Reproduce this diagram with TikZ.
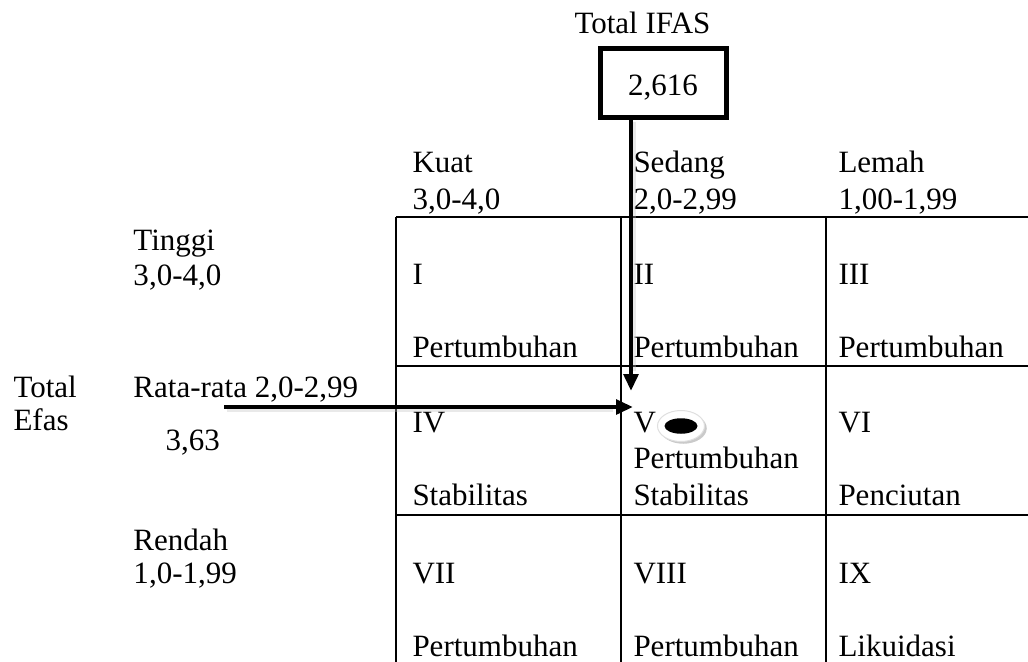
\documentclass[tikz,border=0pt]{standalone}
\usepackage{fontspec}
\setmainfont{Liberation Serif}
\usetikzlibrary{arrows.meta,shadows,shapes.geometric}
\begin{document}
\begin{tikzpicture}[x=0.4pt,y=-0.4pt,
  txt/.style={anchor=base west,inner sep=0pt,font=\fontsize{12.4}{14}\selectfont},
  gridline/.style={line width=0.8pt},
  arr/.style={line width=1.8pt,-{Triangle[length=6.8pt,width=5.8pt]}},
  arrshadow/.style={line width=2.2pt,draw=gray!50,opacity=0.35}]
\useasboundingbox (0,0) rectangle (1028,661);
% grid
\draw[gridline] (396,217) -- (1030,217);
\draw[gridline] (396,366) -- (1030,366);
\draw[gridline] (396,515) -- (1030,515);
\draw[gridline] (396,217) -- (396,663);
\draw[gridline] (621,217) -- (621,663);
\draw[gridline] (826,217) -- (826,663);
% top
\node[txt] (tifas) at (574,33) {Total IFAS};
\node[draw,line width=2pt,minimum width=50.4pt,minimum height=27.6pt,inner sep=0pt,
  text height=10pt,text depth=0pt,font=\fontsize{12.4}{14}\selectfont] (ifasbox) at (663,82.5) {2,616};
% column headers
\node[txt] (kuat) at (412,172) {Kuat};
\node[txt] (kuatr) at (412,209) {3,0-4,0};
\node[txt] (sedang) at (633,172) {Sedang};
\node[txt] (sedangr) at (633,209) {2,0-2,99};
\node[txt] (lemah) at (838,172) {Lemah};
\node[txt] (lemahr) at (838,209) {1,00-1,99};
% row headers
\node[txt] (tinggi) at (133,250) {Tinggi};
\node[txt] (tinggir) at (133,285) {3,0-4,0};
\node[txt] (total) at (13,397) {Total};
\node[txt] (efas) at (13,430) {Efas};
\node[txt] (rata) at (133,397) {Rata-rata 2,0-2,99};
\node[txt] (val) at (165,450) {3,63};
\node[txt] (rendah) at (133,550) {Rendah};
\node[txt] (rendahr) at (133,583) {1,0-1,99};
% cells row 1
\node[txt] (c1) at (412,284) {I};
\node[txt] (c1b) at (412,357) {Pertumbuhan};
\node[txt] (c2) at (633,284) {II};
\node[txt] (c2b) at (633,357) {Pertumbuhan};
\node[txt] (c3) at (838,284) {III};
\node[txt] (c3b) at (838,357) {Pertumbuhan};
% row 2
\node[txt] (c4) at (412,432) {IV};
\node[txt] (c4b) at (412,505) {Stabilitas};
\node[txt] (c5) at (633,432) {V};
\node[txt] (c5a) at (633,468) {Pertumbuhan};
\node[txt] (c5b) at (633,505) {Stabilitas};
\node[txt] (c6) at (838,432) {VI};
\node[txt] (c6b) at (838,505) {Penciutan};
% row 3
\node[txt] (c7) at (412,583) {VII};
\node[txt] (c7b) at (412,656) {Pertumbuhan};
\node[txt] (c8) at (633,583) {VIII};
\node[txt] (c8b) at (633,656) {Pertumbuhan};
\node[txt] (c9) at (838,583) {IX};
\node[txt] (c9b) at (838,656) {Likuidasi};
% marker
\node[ellipse,fill=white,draw=gray!25,minimum width=18.8pt,minimum height=12.4pt,inner sep=0pt,
  drop shadow={shadow xshift=0.9pt,shadow yshift=-0.9pt,fill=gray!70,opacity=0.6}] (ring) at (681,426) {};
\node[ellipse,fill=black,minimum width=13.2pt,minimum height=6.2pt,inner sep=0pt] (dot) at (ring.center) {};
% arrows
\coordinate (vtip) at (631,391);
\coordinate (hstart) at (224,407);
\coordinate (htip) at (633,407);
\draw[arrshadow] ([xshift=1pt,yshift=-1pt]ifasbox.south -| vtip) -- ([xshift=1pt,yshift=8pt]vtip);
\draw[arrshadow] ([xshift=1pt,yshift=-1pt]hstart) -- ([xshift=-8pt,yshift=-1pt]htip);
\draw[arr] (ifasbox.south -| vtip) -- (vtip);
\draw[arr] (hstart) -- (htip);
\end{tikzpicture}
\end{document}
